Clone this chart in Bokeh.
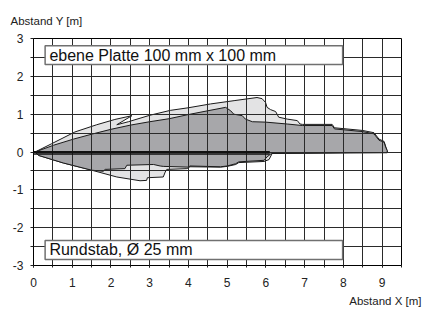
from bokeh.plotting import figure
from bokeh.models import SingleIntervalTicker, Title, Range1d
from bokeh.core.properties import value
from bokeh.embed import file_html
from bokeh.resources import INLINE

FONT = "Liberation Sans"

# Light region: ebene Platte 100 mm x 100 mm
plate_x = [0.04, 0.47, 1.07, 1.63, 2.10, 2.54, 2.15, 2.45, 3.00, 3.53, 4.00, 4.57, 5.20, 5.77,
           5.90, 5.99, 6.03, 6.12, 6.25, 6.33, 6.55, 6.81, 6.88, 6.94, 7.71, 7.77, 8.49, 8.79,
           8.92, 9.05, 9.09, 9.14,
           6.16, 6.08, 5.95, 5.30, 5.22, 5.00, 4.83, 4.04, 3.96, 3.44, 3.40, 3.35, 2.94, 2.92,
           2.75, 2.15, 1.50, 0.77, 0.13]
plate_y = [0.00, 0.22, 0.53, 0.72, 0.86, 0.96, 0.72, 0.80, 0.97, 1.10, 1.17, 1.27, 1.36, 1.44,
           1.41, 1.31, 1.18, 1.12, 1.07, 0.92, 0.87, 0.83, 0.74, 0.73, 0.73, 0.64, 0.57, 0.51,
           0.34, 0.28, 0.15, 0.00,
           -0.04, -0.20, -0.25, -0.28, -0.33, -0.38, -0.40, -0.39, -0.44, -0.46, -0.53, -0.66,
           -0.68, -0.75, -0.76, -0.66, -0.48, -0.29, -0.09]

# Dark region: Rundstab, Ø 25 mm
rod_x = [0.04, 0.52, 1.03, 1.50, 2.00, 2.50, 3.00, 3.50, 4.00, 4.50, 4.96, 5.09, 5.17, 5.39,
         5.47, 5.65, 5.99, 6.55, 6.94, 7.71, 7.77, 8.49, 8.79, 8.92, 9.05, 9.09, 9.13, 9.13,
         6.14, 6.03, 5.95, 5.30, 5.22, 5.00, 4.83, 4.04, 4.00, 3.35, 3.27, 3.10, 2.41, 2.36,
         1.85, 1.80, 1.50, 0.77, 0.13]
rod_y = [0.00, 0.18, 0.34, 0.47, 0.60, 0.71, 0.80, 0.88, 0.99, 1.09, 1.18, 1.09, 1.00, 0.96,
         0.87, 0.80, 0.79, 0.74, 0.70, 0.70, 0.61, 0.54, 0.48, 0.31, 0.26, 0.13, 0.04, -0.02,
         -0.04, -0.13, -0.22, -0.26, -0.31, -0.37, -0.39, -0.37, -0.40, -0.38, -0.37, -0.33,
         -0.35, -0.44, -0.46, -0.51, -0.48, -0.29, -0.09]

# Sensor axis double line
axis_x = [0.0, 6.1]
axis_y1 = [0.0, 0.0]
axis_y2 = [-0.05, -0.05]

# Legend boxes
box_labels = ["ebene Platte 100 mm x 100 mm", "Rundstab, Ø 25 mm"]
box_left = [0.3, 0.3]
box_right = [7.98, 7.98]
box_top = [2.81, -2.34]
box_bottom = [2.31, -2.84]
text_x = [0.41, 0.41]
text_y = [2.56, -2.59]

x_title = "Abstand X [m]"
y_title = "Abstand Y [m]"

p = figure(width=422, height=309, output_backend="svg", toolbar_location=None,
           x_range=Range1d(0, 9.5), y_range=Range1d(-3, 3),
           min_border_left=33, min_border_right=21, min_border_top=38, min_border_bottom=44)
p.background_fill_color = "white"
p.border_fill_color = "white"
p.outline_line_color = "black"
p.outline_line_width = 1

p.patch(plate_x, plate_y, fill_color="#e3e3e4", line_color="#1a1a1a", line_width=1, level="image")
p.patch(rod_x, rod_y, fill_color="#a7a7aa", line_color="#1a1a1a", line_width=1, level="image")

p.line(axis_x, axis_y1, line_color="#111111", line_width=2)
p.line(axis_x, axis_y2, line_color="#111111", line_width=1.5)

p.quad(left=box_left, right=box_right, top=box_top, bottom=box_bottom,
       fill_color="white", line_color="#707070", line_width=1.5)
p.text(text_x, text_y, text=box_labels, text_font=value(FONT), text_font_size="16px",
       text_color="#111111", text_baseline="middle", text_align="left")

for ax, grid in ((p.xaxis[0], p.xgrid[0]), (p.yaxis[0], p.ygrid[0])):
    ax.ticker = SingleIntervalTicker(interval=1, num_minor_ticks=2)
    ax.major_label_text_font = FONT
    ax.major_label_text_font_size = "12px"
    ax.major_label_text_color = "#222222"
    ax.axis_line_color = "black"
    ax.major_tick_line_color = "#222222"
    ax.minor_tick_line_color = "#222222"
    ax.major_tick_in = 0
    ax.minor_tick_in = 0
    grid.grid_line_color = "#2a2a2a"
    grid.grid_line_width = 1
    grid.minor_grid_line_color = "#2a2a2a"
    grid.minor_grid_line_width = 1

p.xaxis.major_tick_out = 2
p.xaxis.minor_tick_out = 2
p.xaxis.major_label_standoff = 10
p.yaxis.major_tick_out = 0
p.yaxis.minor_tick_out = 3
p.yaxis.major_label_standoff = 7
p.yaxis.major_label_overrides = {-3: "-3", -2: "-2", -1: "-1"}

p.add_layout(Title(text=y_title, align="left", offset=-23, standoff=23,
                   text_font=FONT, text_font_size="11.5px", text_font_style="normal",
                   text_color="#222222"), "above")
p.add_layout(Title(text=x_title, align="right", offset=-20, standoff=6,
                   text_font=FONT, text_font_size="11.5px", text_font_style="normal",
                   text_color="#222222"), "below")

open("out.html", "w").write(file_html(p, INLINE))
